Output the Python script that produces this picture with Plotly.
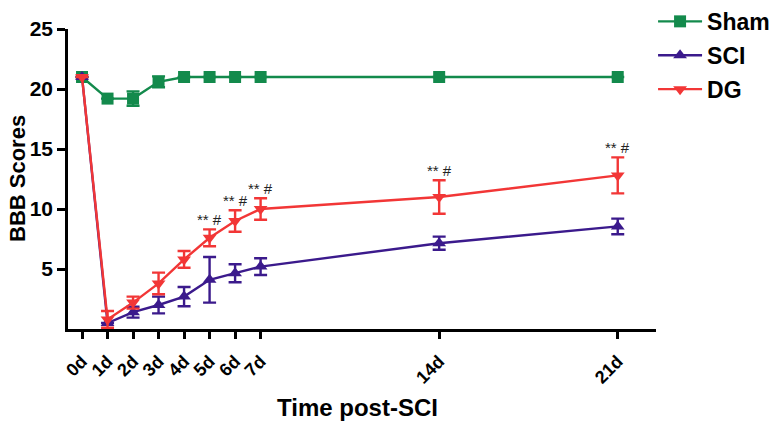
import plotly.graph_objects as go

days = [0, 1, 2, 3, 4, 5, 6, 7, 14, 21]
tick_labels = ["0d", "1d", "2d", "3d", "4d", "5d", "6d", "7d", "14d", "21d"]

sham = [21, 19.2, 19.2, 20.6, 21, 21, 21, 21, 21, 21]
sham_err = [0, 0, 0.6, 0.45, 0, 0, 0, 0, 0, 0]

sci = [21, 0.5, 1.4, 2.0, 2.7, 4.1, 4.65, 5.2, 7.15, 8.55]
sci_err = [0, 0, 0.45, 0.7, 0.8, 1.9, 0.75, 0.7, 0.55, 0.65]

dg = [21, 0.8, 2.2, 3.8, 5.8, 7.6, 9.0, 10.0, 11.0, 12.8]
dg_err = [0, 0.7, 0.5, 0.9, 0.7, 0.7, 0.9, 0.9, 1.4, 1.5]

sig_days = [5, 6, 7, 14, 21]
sig_text = "** #"

GREEN = "#138a4c"
PURPLE = "#3b1a8c"
RED = "#f23636"
FONT = "Arial, Liberation Sans, sans-serif"

fig = go.Figure()

def add(name, y, err, color, symbol):
    fig.add_trace(go.Scatter(
        x=days, y=y, name=name, mode="lines+markers", legendgroup=name,
        line=dict(color=color, width=2.4),
        marker=dict(symbol=symbol, size=12, color=color),
        error_y=dict(type="data", array=err, visible=True, color=color,
                     thickness=2.4, width=6.5),
    ))

add("Sham", sham, sham_err, GREEN, "square")
add("SCI", sci, sci_err, PURPLE, "triangle-up")
add("DG", dg, dg_err, RED, "triangle-down")

for d in sig_days:
    i = days.index(d)
    fig.add_annotation(
        x=d, y=dg[i] + dg_err[i], text=sig_text, showarrow=False,
        yshift=10, font=dict(family=FONT, size=15, color="#222222"),
    )

fig.add_annotation(text="BBB Scores", xref="paper", yref="paper", x=0, y=0.5,
                   xshift=-51, textangle=-90, showarrow=False,
                   xanchor="center", yanchor="middle",
                   font=dict(family=FONT, size=22, color="black", weight="bold"))
fig.add_annotation(text="Time post-SCI", xref="paper", yref="paper", x=0.5, y=0,
                   xshift=-5, yshift=-78, showarrow=False,
                   xanchor="center", yanchor="middle",
                   font=dict(family=FONT, size=24, color="black", weight="bold"))

fig.update_layout(
    width=781, height=424,
    margin=dict(l=68, r=125, t=29, b=95, autoexpand=False),
    plot_bgcolor="white", paper_bgcolor="white",
    font=dict(family=FONT, color="black"),
    showlegend=True,
    legend=dict(x=0.995, y=1.097, xanchor="left", yanchor="top",
                traceorder="grouped",
                font=dict(family=FONT, size=23, color="black", weight="bold"),
                itemwidth=44, tracegroupgap=1, bgcolor="rgba(0,0,0,0)"),
    xaxis=dict(
        range=[-0.55, 22.5], tickvals=days, ticktext=tick_labels,
        tickangle=-45, showgrid=False, zeroline=False, automargin=False,
        showline=True, linecolor="black", linewidth=2.5,
        ticks="outside", ticklen=7, tickwidth=2.5, tickcolor="black",
        ticklabelstandoff=5,
        tickfont=dict(family=FONT, size=18, color="black", weight="bold"),
    ),
    yaxis=dict(
        range=[0, 25], tickvals=[5, 10, 15, 20, 25], showgrid=False,
        zeroline=False, showline=True, linecolor="black", linewidth=2.5,
        automargin=False,
        ticks="outside", ticklen=8, tickwidth=2.5, tickcolor="black",
        tickfont=dict(family=FONT, size=21, color="black", weight="bold"),
    ),
)

fig.write_html("out.html", config={"displayModeBar": False},
               post_script="document.body.style.margin='0';"
                           "document.body.style.overflow='hidden';")
